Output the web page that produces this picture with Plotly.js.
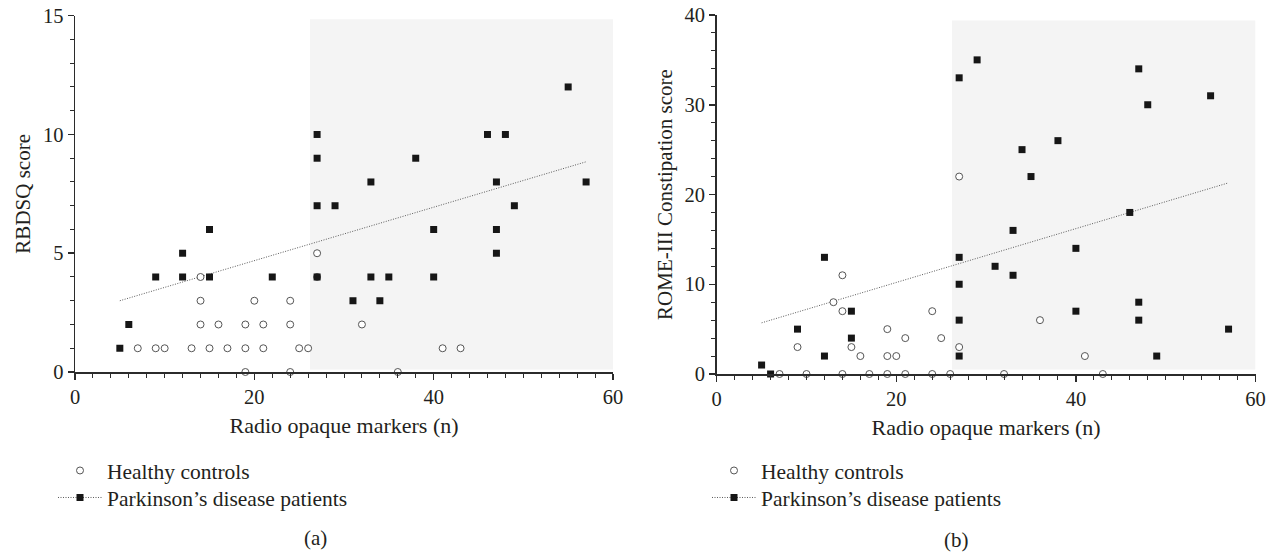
<!DOCTYPE html>
<html><head><meta charset="utf-8">
<script src="https://cdn.plot.ly/plotly-3.0.1.min.js"></script>
<style>html,body{margin:0;padding:0;background:#fff}#chart{width:1271px;height:552px}</style>
</head><body><div id="chart"></div>
<script>
// ---------- Panel (a): RBDSQ score ----------
const hcMarkersA = [7,9,10,13,15,17,19,21,25,26,14,14,14,16,20,19,21,24,24,19,24,27,27,32,41,43,36];
const hcRbdsq    = [1,1,1,1,1,1,1,1,1,1,4,3,2,2,3,2,2,3,2,0,0,5,4,2,1,1,0];
const pdMarkersA = [5,6,9,12,12,15,15,22,27,27,27,27,29,33,33,38,46,48,55,47,47,47,57,49,40,40,35,31,34];
const pdRbdsq    = [1,2,4,5,4,6,4,4,10,9,7,4,7,8,4,9,10,10,12,8,6,5,8,7,6,4,4,3,3];
const trendX     = [5,57];
const trendA     = [3.0,8.85];

// ---------- Panel (b): ROME-III constipation score ----------
const hcMarkersB = [14,13,14,9,15,16,19,19,20,21,24,25,27,27,7,10,14,17,19,21,24,26,36,41,32,43];
const hcRome     = [11,8,7,3,3,2,5,2,2,4,7,4,22,3,0,0,0,0,0,0,0,0,6,2,0,0];
const pdMarkersB = [5,6,9,12,12,15,15,27,27,27,27,27,29,47,48,55,38,34,35,46,33,40,31,33,47,40,47,57,49];
const pdRome     = [1,0,5,13,2,7,4,33,13,10,6,2,35,34,30,31,26,25,22,18,16,14,12,11,8,7,6,5,2];
const trendB     = [5.7,21.3];

// shaded region (axis units)
const shadeX  = [26.2,60];
const shadeYA = [0.1,14.85];
const shadeYB = [0.5,39.4];

// ticks / labels
const xTicks   = [0,20,40,60];
const yTicksA  = [0,5,10,15];
const yTicksB  = [0,10,20,30,40];
const xTitle   = 'Radio opaque markers (n)';
const yTitleA  = 'RBDSQ score';
const yTitleB  = 'ROME-III Constipation score';
const hcName   = 'Healthy controls';
const pdName   = 'Parkinson\u2019s disease patients';
const panelLabels = ['(a)','(b)'];

const FONT = '"Liberation Serif", "Times New Roman", serif';
const TXT = '#231f20';
const hcMarkerFill = {symbol:'circle', size:7, color:'#ffffff', line:{width:1, color:'#555'}};
const pdMarker = {symbol:'square', size:7, color:'#161616', line:{width:0}};
const trendLine = {color:'#5a5a5a', width:1, dash:'1px,1.5px'};

function trendTrace(y, xa, ya){
  return {x:trendX, y:y, xaxis:xa, yaxis:ya, mode:'lines', line:trendLine, showlegend:false, hoverinfo:'skip'};
}
const traces = [
  trendTrace(trendA,'x','y'),
  {x:hcMarkersA, y:hcRbdsq, xaxis:'x', yaxis:'y', mode:'markers', marker:hcMarkerFill, name:hcName, legend:'legend', cliponaxis:false},
  {x:pdMarkersA, y:pdRbdsq, xaxis:'x', yaxis:'y', mode:'markers', marker:pdMarker, name:pdName, showlegend:false, cliponaxis:false},
  {x:[null], y:[null], xaxis:'x', yaxis:'y', mode:'lines+markers', marker:pdMarker, line:trendLine, name:pdName, legend:'legend2'},

  trendTrace(trendB,'x2','y2'),
  {x:hcMarkersB, y:hcRome, xaxis:'x2', yaxis:'y2', mode:'markers', marker:hcMarkerFill, name:hcName, legend:'legend3', cliponaxis:false},
  {x:pdMarkersB, y:pdRome, xaxis:'x2', yaxis:'y2', mode:'markers', marker:pdMarker, name:pdName, showlegend:false, cliponaxis:false},
  {x:[null], y:[null], xaxis:'x2', yaxis:'y2', mode:'lines+markers', marker:pdMarker, line:trendLine, name:pdName, legend:'legend4'}
];

function axisBase(extra){
  return Object.assign({
    showline:true, linecolor:'#2b2b2b', linewidth:1.5,
    ticks:'outside', ticklen:6, tickwidth:1.5, tickcolor:'#2b2b2b',
    showgrid:false, zeroline:false, fixedrange:true,
    tickfont:{family:FONT, size:20.5, color:TXT},
    tickmode:'array'
  }, extra);
}
const minorX = {tickmode:'linear', tick0:0, dtick:2, ticks:'outside', ticklen:4, tickwidth:1, tickcolor:'#2b2b2b', showgrid:false};

const W = 1271, H = 552;
function leg(xpx, ytop){
  return {x:xpx/W, y:(H-ytop)/H, xanchor:'left', yanchor:'top', bgcolor:'rgba(0,0,0,0)', borderwidth:0,
    font:{family:FONT, size:21.5, color:TXT}, itemwidth:44, traceorder:'normal'};
}
const layout = {
  width:W, height:H, autosize:false,
  margin:{l:0,r:0,t:0,b:0},
  paper_bgcolor:'#fff', plot_bgcolor:'rgba(0,0,0,0)',
  font:{family:FONT, color:TXT, size:20},
  xaxis: axisBase({domain:[75/W, 613/W], range:[0,60], anchor:'y', tickvals:xTicks, ticktext:xTicks.map(String),
    minor:minorX, title:{text:xTitle, font:{family:FONT,size:22,color:TXT}, standoff:10}}),
  yaxis: axisBase({domain:[(H-372)/H, (H-15.7)/H], range:[0,15], anchor:'x', tickvals:yTicksA, ticktext:yTicksA.map(String),
    minor:{tickmode:'linear', tick0:0, dtick:1, ticks:'outside', ticklen:4, tickwidth:1, tickcolor:'#2b2b2b', showgrid:false},
    title:{text:yTitleA, font:{family:FONT,size:21,color:TXT}, standoff:6}}),
  xaxis2: axisBase({domain:[716.7/W, 1255.5/W], range:[0,60], anchor:'y2', tickvals:xTicks, ticktext:xTicks.map(String),
    minor:minorX, title:{text:xTitle, font:{family:FONT,size:22,color:TXT}, standoff:10}}),
  yaxis2: axisBase({domain:[(H-374)/H, (H-15)/H], range:[0,40], anchor:'x2', tickvals:yTicksB, ticktext:yTicksB.map(String),
    minor:{tickmode:'linear', tick0:0, dtick:2, ticks:'outside', ticklen:4, tickwidth:1, tickcolor:'#2b2b2b', showgrid:false},
    title:{text:yTitleB, font:{family:FONT,size:21,color:TXT}, standoff:6}}),
  shapes:[
    {type:'rect', xref:'x', yref:'y', x0:shadeX[0], x1:shadeX[1], y0:shadeYA[0], y1:shadeYA[1], fillcolor:'#f4f4f4', line:{width:0}, layer:'below'},
    {type:'rect', xref:'x2', yref:'y2', x0:shadeX[0], x1:shadeX[1], y0:shadeYB[0], y1:shadeYB[1], fillcolor:'#f4f4f4', line:{width:0}, layer:'below'}
  ],
  legend:  leg(53, 450),
  legend2: leg(53, 477),
  legend3: leg(707, 450),
  legend4: leg(707, 477),
  annotations:[
    {text:panelLabels[0], xref:'paper', yref:'paper', x:315/W, y:(H-538)/H, xanchor:'center', yanchor:'middle', showarrow:false, font:{family:FONT,size:21,color:TXT}},
    {text:panelLabels[1], xref:'paper', yref:'paper', x:956/W, y:(H-540)/H, xanchor:'center', yanchor:'middle', showarrow:false, font:{family:FONT,size:21,color:TXT}}
  ]
};
Plotly.newPlot('chart', traces, layout, {displayModeBar:false, staticPlot:true});
</script></body></html>
